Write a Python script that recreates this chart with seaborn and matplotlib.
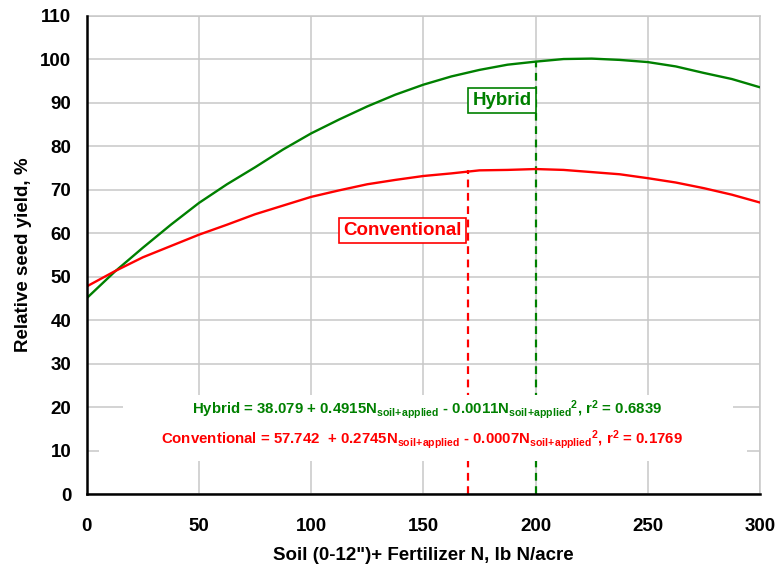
import matplotlib
matplotlib.use("Agg")
import matplotlib.pyplot as plt
from matplotlib.patches import Rectangle
import seaborn as sns
import pandas as pd

# ---- data ----
n_rate = [0, 12.5, 25, 37.5, 50, 62.5, 75, 87.5, 100, 112.5, 125, 137.5, 150,
          162.5, 175, 187.5, 200, 212.5, 225, 237.5, 250, 262.5, 275, 287.5, 300]
hybrid = [45.1, 51.2, 56.7, 62.0, 67.0, 71.3, 75.2, 79.3, 83.0, 86.2, 89.2, 91.9, 94.2,
          96.1, 97.6, 98.8, 99.5, 100.1, 100.2, 99.9, 99.4, 98.4, 96.9, 95.5, 93.6]
conventional = [47.8, 51.3, 54.5, 57.1, 59.7, 62.0, 64.4, 66.4, 68.4, 69.9, 71.3, 72.3, 73.2,
                73.8, 74.5, 74.6, 74.8, 74.6, 74.1, 73.6, 72.7, 71.7, 70.4, 68.9, 67.1]
optimum_conv = (170, 74.5)
optimum_hyb = (200, 99.5)
x_ticks = [0, 50, 100, 150, 200, 250, 300]
y_ticks = list(range(0, 111, 10))
x_label = 'Soil (0-12")+ Fertilizer N, lb N/acre'
y_label = "Relative seed yield, %"
GREEN = "#008000"
RED = "#FF0000"

df = pd.DataFrame({
    "N": n_rate * 2,
    "yield": hybrid + conventional,
    "type": ["Hybrid"] * len(n_rate) + ["Conventional"] * len(n_rate),
})

sns.set_theme(style="white")
plt.rcParams["font.family"] = ["Liberation Sans", "DejaVu Sans"]
plt.rcParams["font.weight"] = "bold"
plt.rcParams["text.color"] = "black"
plt.rcParams["axes.labelcolor"] = "black"
plt.rcParams["xtick.color"] = "black"
plt.rcParams["ytick.color"] = "black"
plt.rcParams["mathtext.fontset"] = "custom"
plt.rcParams["mathtext.bf"] = "Liberation Sans:bold"
plt.rcParams["mathtext.rm"] = "Liberation Sans:bold"
plt.rcParams["mathtext.default"] = "bf"

fig = plt.figure(figsize=(7.75, 5.69), dpi=100)
ax = fig.add_axes([0.1119, 0.1313, 0.9806 - 0.1119, 0.9719 - 0.1313])

sns.lineplot(data=df, x="N", y="yield", hue="type",
             palette={"Hybrid": GREEN, "Conventional": RED},
             linewidth=1.7, legend=False, ax=ax, zorder=3)

ax.set_xlim(0, 300)
ax.set_ylim(0, 110)
ax.set_xticks(x_ticks)
ax.set_yticks(y_ticks)
ax.grid(True, color="#c8c8c8", linewidth=1.1, zorder=0)
ax.set_axisbelow(True)

# dashed optimum lines
ax.plot([optimum_conv[0], optimum_conv[0]], [0, optimum_conv[1]], color=RED,
        linestyle=(0, (3.5, 2.5)), linewidth=1.6, zorder=2)
ax.plot([optimum_hyb[0], optimum_hyb[0]], [0, optimum_hyb[1]], color=GREEN,
        linestyle=(0, (3.5, 2.5)), linewidth=1.6, zorder=2)

# white backgrounds behind the equations
ax.add_patch(Rectangle((16.2, 15.2), 287.9 - 16.2, 22.8 - 15.2, facecolor="white",
                       edgecolor="none", zorder=2.5))
ax.add_patch(Rectangle((5.5, 7.7), 294.1 - 5.5, 15.2 - 7.7, facecolor="white",
                       edgecolor="none", zorder=2.5))

sub = r"$_{soil\!+\!applied}$"
sub2 = r"$_{soil\!+\!applied}{}^{2}$"
eq_h = "Hybrid = 38.079 + 0.4915N" + sub + " - 0.0011N" + sub2 + r", r$^{2}$ = 0.6839"
eq_c = "Conventional = 57.742  + 0.2745N" + sub + " - 0.0007N" + sub2 + r", r$^{2}$ = 0.1769"
ax.text(151.8, 19.4, eq_h, color=GREEN, fontsize=10.8, fontweight="bold",
        ha="center", va="center", zorder=4)
ax.text(149.4, 12.5, eq_c, color=RED, fontsize=10.8, fontweight="bold",
        ha="center", va="center", zorder=4)

# labels in boxes
ax.text(185, 90.6, "Hybrid", color=GREEN, fontsize=13.5, fontweight="bold",
        ha="center", va="center", zorder=4,
        bbox=dict(boxstyle="square,pad=0.22", facecolor="white", edgecolor=GREEN, linewidth=1.2))
ax.text(140.6, 60.7, "Conventional", color=RED, fontsize=13.5, fontweight="bold",
        ha="center", va="center", zorder=4,
        bbox=dict(boxstyle="square,pad=0.22", facecolor="white", edgecolor=RED, linewidth=1.2))

for side in ["left", "bottom"]:
    ax.spines[side].set_color("black")
    ax.spines[side].set_linewidth(1.8)
    ax.spines[side].set_zorder(5)
for side in ["top", "right"]:
    ax.spines[side].set_color("#c8c8c8")
    ax.spines[side].set_linewidth(1.1)

ax.tick_params(axis="both", direction="out", length=5, width=1.5, color="black",
               labelcolor="black", labelsize=13.5)
ax.tick_params(axis="x", pad=12)
ax.tick_params(axis="y", pad=6)
for lab in ax.get_xticklabels() + ax.get_yticklabels():
    lab.set_fontweight("bold")

ax.set_xlabel(x_label, fontsize=13.5, fontweight="bold", labelpad=9, color="black")
ax.set_ylabel(y_label, fontsize=13.5, fontweight="bold", labelpad=6, color="black")

fig.savefig("out.png", dpi=100)
